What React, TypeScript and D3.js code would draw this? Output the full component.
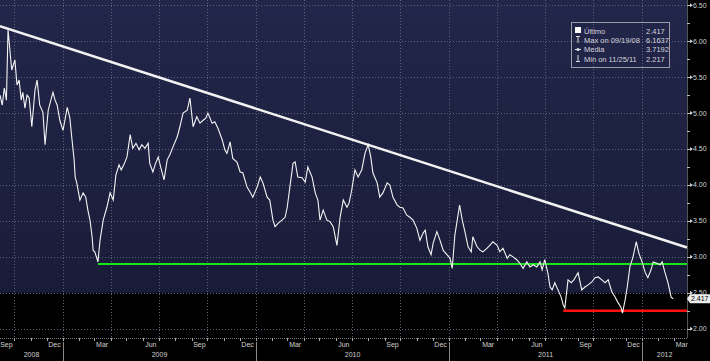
import React from 'react';
import * as d3 from 'd3';

// ---- data ----
const START = new Date(2008, 8, 1); // day offsets are counted from 1 Sep 2008
const dayOffsets = [
  3, 7, 11, 15, 18, 25, 31, 35, 39, 43, 46, 50, 54, 58, 63, 69, 73, 78, 84, 88,
  94, 99, 103, 107, 111, 116, 122, 130, 135, 139, 143, 145, 148, 154, 160, 165, 169, 173, 177, 179,
  182, 186, 188, 192, 198, 205, 211, 217, 222, 228,
  232, 237, 243, 249, 254, 260, 266, 271, 277, 283, 286, 292, 296, 302, 307, 313, 319, 324, 330, 338,
  343, 349, 357, 362, 368, 375, 381, 387, 392, 396, 404, 409, 415, 423, 428, 432, 438, 443,
  451, 457, 462, 470, 476, 481, 489, 495, 500, 508, 513, 519, 523, 529, 536, 542, 546, 551, 557, 561,
  566, 574, 580, 585, 593, 599, 604, 608, 614, 621, 627, 633, 640, 646, 652, 659,
  663, 668, 674, 680, 687, 693, 699, 704, 708, 716, 721, 727, 735, 740, 746, 754, 759, 765, 772, 778,
  784, 791, 797, 803, 807, 812, 818, 822, 829, 835, 841, 848, 854, 858, 863, 869, 872, 877, 882, 888, 894,
  897, 905, 911, 916, 924, 929, 935, 943, 948, 954, 962, 967, 973, 980, 986, 992, 999, 1005, 1011, 1018,
  1024, 1028, 1033, 1039, 1043, 1047, 1052, 1058, 1064, 1068, 1071,
  1077, 1083, 1088, 1096, 1103, 1109, 1115, 1122, 1128, 1134, 1141, 1147, 1153, 1160, 1166, 1171, 1177, 1180,
  1185, 1189, 1194, 1200, 1206, 1211, 1217, 1223, 1228, 1234, 1238, 1245, 1251, 1255, 1260, 1266, 1272, 1276,
];
const values = [
  5.25, 5.11, 5.35, 5.18, 6.1637, 5.6, 5.74, 5.39, 5.46, 5.18, 5.29, 5.07, 5.25, 5.21, 4.81, 5.32, 5.46, 5.11, 5.01, 4.56,
  5.04, 5.18, 5.29, 5.18, 5.11, 4.9, 4.76, 5.08, 4.93, 4.63, 4.35, 4.11, 4.03, 3.79, 3.89, 3.83, 3.65, 3.51, 3.28, 3.09,
  3.07, 2.98, 2.93, 3.23, 3.51, 3.69, 3.89, 3.79, 4.14, 4.28,
  4.21, 4.28, 4.39, 4.7, 4.51, 4.58, 4.49, 4.56, 4.51, 4.58, 4.3, 4.18, 4.28, 4.39, 4.24, 4.07, 4.35, 4.42, 4.53, 4.67,
  4.81, 5.0, 5.04, 5.21, 4.81, 4.95, 4.86, 4.9, 4.93, 5.0, 4.86, 4.88, 4.79, 4.63, 4.49, 4.44, 4.6, 4.37,
  4.32, 4.18, 4.17, 3.97, 3.9, 3.83, 3.97, 4.11, 4.03, 3.83, 3.79, 3.51, 3.42, 3.47, 3.51, 3.55, 3.69, 3.97, 4.3, 4.32,
  4.11, 4.1, 4.04, 4.25, 4.11, 3.89, 3.79, 3.51, 3.65, 3.51, 3.49, 3.42, 3.16, 3.55, 3.79, 3.69,
  3.75, 3.93, 4.21, 4.11, 4.21, 4.44, 4.56, 4.39, 4.17, 4.03, 3.83, 3.89, 4.03, 4.0, 3.83, 3.72, 3.69, 3.68, 3.58, 3.55,
  3.51, 3.4, 3.23, 3.33, 3.37, 3.14, 3.03, 3.19, 3.35, 3.23, 3.09, 3.03, 2.98, 2.84, 3.3, 3.58, 3.72, 3.51, 3.35, 3.14, 3.07,
  3.28, 3.14, 3.09, 3.07, 3.12, 3.16, 3.21, 3.16, 3.07, 3.12, 2.98, 3.03, 3.0, 2.96, 2.91, 2.84, 2.93, 2.86, 2.89, 2.86,
  2.93, 2.82, 2.96, 2.77, 2.58, 2.54, 2.64, 2.54, 2.44, 2.33, 2.29,
  2.68, 2.64, 2.68, 2.78, 2.54, 2.58, 2.61, 2.65, 2.71, 2.72, 2.68, 2.64, 2.68, 2.51, 2.44, 2.37, 2.3, 2.217,
  2.4, 2.58, 2.86, 3.0, 3.21, 3.05, 2.93, 2.78, 2.71, 2.82, 2.93, 2.91, 2.89, 2.93, 2.79, 2.64, 2.44, 2.417,
];
const yTickValues = [2.0, 2.5, 3.0, 3.5, 4.0, 4.5, 5.0, 5.5, 6.0, 6.5];
const yTickLabels = ['2.00', '2.50', '3.00', '3.50', '4.00', '4.50', '5.00', '5.50', '6.00', '6.50'];
const quarterMonthNames: Record<number, string> = { 8: 'Sep', 11: 'Dec', 2: 'Mar', 5: 'Jun' };
const yearLabels = ['2008', '2009', '2010', '2011', '2012'];
const legendLabels = ['Último', 'Max on 09/19/08', 'Media', 'Min on 11/25/11'];
const legendValues = ['2.417', '6.1637', '3.7192', '2.217'];
const lastValue = 2.417;
const trendStartDay = 2.8, trendStartValue = 6.21, trendEndDay = 1302, trendEndValue = 3.13;
const supportValue = 2.9, supportStartDay = 188;
const minLineValue = 2.25, minLineStartDay = 1068;

export default function App() {
  const W = 710, H = 361, PR = 687, PB = 338;
  const day = (d: number) => d3.timeHour.offset(START, Math.round(d * 24));
  const x = d3.scaleTime().domain([day(2.84), day(1302)]).range([0, PR]);
  const y = d3.scaleLinear().domain([2, 6.5]).range([328.7, 5.3]);
  const data = dayOffsets.map((d, i) => ({ date: day(d), v: values[i] }));
  const line = d3.line<{ date: Date; v: number }>().x(d => x(d.date)).y(d => y(d.v));

  const months = d3.timeMonth.range(new Date(2008, 8, 1), new Date(2012, 3, 1));
  const quarterStarts = months.filter(m => m.getMonth() % 3 === 0);
  const minorY = d3.range(2, 6.51, 0.25);
  const font = 'Liberation Sans, Arial, sans-serif';
  const yv = y(lastValue);
  const navyBottom = y(2.5);

  return (
    <svg width={W} height={H} style={{ position: 'absolute', left: 0, top: 0, background: '#000' }}>
      <defs>
        <linearGradient id="bg" x1="0" y1="0" x2="0" y2="1">
          <stop offset="0" stopColor="#22264a" />
          <stop offset="1" stopColor="#191c38" />
        </linearGradient>
      </defs>
      <rect x={0} y={0} width={W} height={H} fill="#000" />
      <rect x={0} y={0} width={PR} height={navyBottom} fill="url(#bg)" />
      {/* horizontal grid */}
      {yTickValues.map(v => (
        <line key={'h' + v} x1={0} x2={PR} y1={Math.round(y(v)) + 0.5} y2={Math.round(y(v)) + 0.5}
          stroke="#5c6078" strokeWidth={1} strokeDasharray="1 2" />
      ))}
      {/* vertical grid at quarter starts */}
      {quarterStarts.map(m => (
        <line key={'v' + m.getTime()} x1={Math.round(x(m)) + 0.5} x2={Math.round(x(m)) + 0.5} y1={0} y2={PB + 4}
          stroke="#5c6078" strokeWidth={1} strokeDasharray="1 2" />
      ))}
      {/* bottom axis line */}
      <line x1={0} x2={PR} y1={PB + 0.5} y2={PB + 0.5} stroke="#777" strokeWidth={1} strokeDasharray="1 1" />
      {/* right axis line */}
      <line x1={PR + 0.5} x2={PR + 0.5} y1={0} y2={PB} stroke="#555" strokeWidth={1} />

      {/* reference lines */}
      <line x1={x(day(supportStartDay))} x2={PR} y1={y(supportValue)} y2={y(supportValue)} stroke="#19e619" strokeWidth={2} />
      <line x1={x(day(minLineStartDay))} x2={PR} y1={y(minLineValue)} y2={y(minLineValue)} stroke="#ff1010" strokeWidth={2.5} />
      <line x1={x(day(trendStartDay))} y1={y(trendStartValue)} x2={x(day(trendEndDay))} y2={y(trendEndValue)}
        stroke="#f2f2f2" strokeWidth={2.5} />

      {/* price line */}
      <path d={line(data) || ''} fill="none" stroke="#f4f4f4" strokeWidth={1.1} strokeLinejoin="miter" />

      {/* legend */}
      <rect x={571.5} y={22.5} width={98} height={45} fill="none" stroke="#9a9caa" strokeWidth={1} />
      <rect x={575} y={27} width={6} height={6} fill="#fff" />
      <line x1={578} x2={578} y1={36} y2={43} stroke="#ddd" strokeWidth={1} />
      <line x1={576} x2={580} y1={36.5} y2={36.5} stroke="#ddd" strokeWidth={1} />
      <line x1={575} x2={581} y1={49.5} y2={49.5} stroke="#ddd" strokeWidth={1} />
      <circle cx={578} cy={49.5} r={1.5} fill="#ddd" />
      <line x1={578} x2={578} y1={55} y2={62} stroke="#ddd" strokeWidth={1} />
      <line x1={576} x2={580} y1={61.5} y2={61.5} stroke="#ddd" strokeWidth={1} />
      {legendLabels.map((t, i) => (
        <text key={'ll' + i} x={584} y={[31, 40.3, 49.5, 59][i]} dy="0.35em" fill="#d4d4dc" fontSize={7.5} fontFamily={font}>{t}</text>
      ))}
      {legendValues.map((t, i) => (
        <text key={'lv' + i} x={646} y={[31, 40.3, 49.5, 59][i]} dy="0.35em" fill="#d4d4dc" fontSize={7.5} fontFamily={font}>{t}</text>
      ))}

      {/* y axis */}
      {minorY.map(v => {
        const major = Math.abs(v * 2 - Math.round(v * 2)) < 1e-6;
        const yy = Math.round(y(v)) + 0.5;
        return <line key={'yt' + v} x1={PR} x2={PR + (major ? 5 : 3)} y1={yy} y2={yy} stroke="#bbb" strokeWidth={1} />;
      })}
      {yTickValues.map((v, i) => (
        <g key={'yl' + v}>
          <path d={`M${PR + 3},${y(v) - 2} L${PR + 6},${y(v)} L${PR + 3},${y(v) + 2} Z`} fill="#ccc" />
          <text x={PR + 6} y={y(v)} dy="0.35em" fill="#d0d0d0" fontSize={7} fontFamily={font}>{yTickLabels[i]}</text>
        </g>
      ))}
      {/* last value tag */}
      <path d={`M${PR},${yv} L${PR + 3},${yv - 4.5} L${W},${yv - 4.5} L${W},${yv + 4.5} L${PR + 3},${yv + 4.5} Z`} fill="#ececec" />
      <text x={PR + 4} y={yv} dy="0.35em" fill="#000" fontSize={7} fontFamily={font}>{lastValue.toFixed(3)}</text>

      {/* x axis */}
      {months.map(m => (
        <line key={'mt' + m.getTime()} x1={Math.round(x(m)) + 0.5} x2={Math.round(x(m)) + 0.5} y1={PB} y2={PB + 3} stroke="#aaa" strokeWidth={1} />
      ))}
      {months.filter(m => quarterMonthNames[m.getMonth()] !== undefined).map(m => (
        <text key={'ml' + m.getTime()} x={x(d3.timeDay.offset(m, 15))} y={345} dy="0.35em" textAnchor="middle"
          fill="#d0d0d0" fontSize={7} fontFamily={font}>{quarterMonthNames[m.getMonth()]}</text>
      ))}
      {yearLabels.map((yr, i) => {
        const y0 = Math.max(0, x(new Date(+yr, 0, 1)));
        const y1 = Math.min(PR, x(new Date(+yr + 1, 0, 1)));
        return (
          <g key={'yr' + yr}>
            {i > 0 && <line x1={Math.round(y0) + 0.5} x2={Math.round(y0) + 0.5} y1={PB + 4} y2={H} stroke="#888" strokeWidth={1} />}
            <text x={(y0 + y1) / 2} y={355} dy="0.35em" textAnchor="middle" fill="#d0d0d0" fontSize={7} fontFamily={font}>{yr}</text>
          </g>
        );
      })}
    </svg>
  );
}
